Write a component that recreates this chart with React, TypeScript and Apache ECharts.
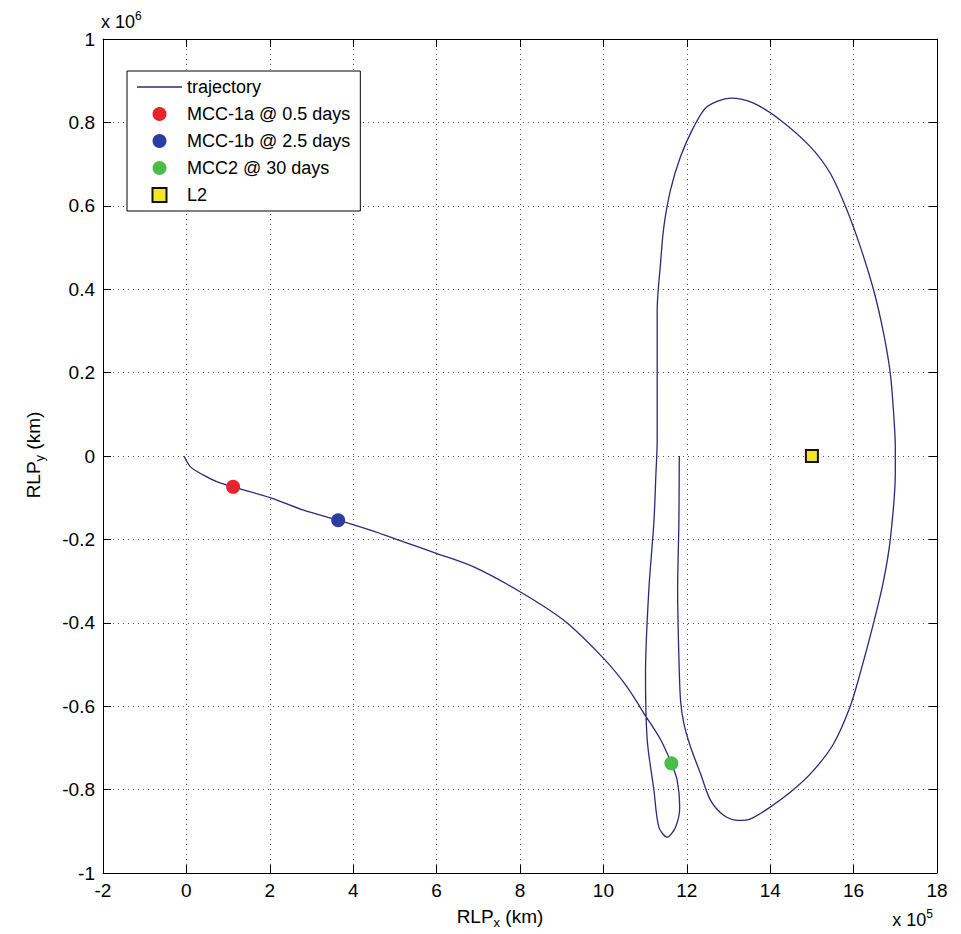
import React, { useEffect, useRef } from "react";
import * as echarts from "echarts";

const FONT = "'Liberation Sans', Arial, Helvetica, sans-serif";

// Trajectory in km (RLP frame)
const trajX = [
  -6000, 10000, 41000, 74000, 112000, 201000, 281000, 364000, 441000, 521000,
  601000, 689000, 801000, 905000, 1001000, 1057000, 1097000, 1137000, 1163000, 1177000,
  1183000, 1173000, 1153000, 1133000, 1121000, 1105000, 1101000, 1109000, 1121000, 1126000,
  1129000, 1129000, 1137000, 1145000, 1161000, 1185000, 1217000, 1249000, 1305000, 1360000,
  1424000, 1496000, 1544000, 1584000, 1616000, 1648000, 1672000, 1688000, 1696000, 1700000,
  1700000, 1688000, 1672000, 1648000, 1616000, 1592000, 1552000, 1504000, 1456000, 1400000,
  1353000, 1325000, 1289000, 1257000, 1233000, 1209000, 1193000, 1185000, 1181000, 1178000,
  1181000, 1182000,
];
const trajY = [
  0, -26000, -46000, -62000, -74000, -100000, -130000, -154000, -178000, -206000,
  -234000, -266000, -326000, -394000, -486000, -554000, -617000, -680000, -737000, -778000,
  -842000, -890000, -914000, -890000, -800000, -680000, -520000, -320000, -160000, -42000,
  38000, 350000, 462000, 550000, 638000, 718000, 790000, 838000, 858000, 846000,
  806000, 742000, 678000, 590000, 502000, 398000, 294000, 198000, 102000, 22000,
  -42000, -200000, -298000, -400000, -520000, -600000, -690000, -754000, -800000, -842000,
  -870000, -874000, -862000, -826000, -762000, -698000, -642000, -586000, -482000, -320000,
  -160000, 0,
];

const markerNames = ["MCC-1a @ 0.5 days", "MCC-1b @ 2.5 days", "MCC2 @ 30 days"];
const markerX = [112000, 364000, 1163000];
const markerY = [-74000, -154000, -737000];
const markerColors = ["#e8232b", "#2b3da0", "#4dbb48"];

const l2X = [1500000];
const l2Y = [0];

const xTicks = { min: -200000, max: 1800000, interval: 200000, scale: 1e5 };
const yTicks = { min: -1000000, max: 1000000, interval: 200000, scale: 1e6 };

export default function App() {
  const ref = useRef<HTMLDivElement>(null);
  useEffect(() => {
    const chart = echarts.init(ref.current!, null, { renderer: "svg" });
    const fmt = (v: number, s: number) => String(parseFloat((v / s).toFixed(2)));
    const axisCommon = {
      type: "value" as const,
      axisLine: { show: true, onZero: false, lineStyle: { color: "#000", width: 1 } },
      axisTick: { show: true, inside: true, length: 8, lineStyle: { color: "#000", width: 1 } },
    };
    const gridLine = { show: true, lineStyle: { color: "#555", width: 1, type: [1, 4] as any } };
    const option: any = {
      animation: false,
      backgroundColor: "#fff",
      textStyle: { fontFamily: FONT },
      grid: { left: 103, right: 24, top: 39, bottom: 61, containLabel: false },
      xAxis: [
        {
          ...axisCommon,
          position: "bottom",
          min: xTicks.min, max: xTicks.max, interval: xTicks.interval,
          axisLabel: { color: "#000", fontSize: 19, fontFamily: FONT, margin: 8, formatter: (v: number) => fmt(v, xTicks.scale) },
          splitLine: gridLine,
        },
        {
          ...axisCommon,
          position: "top",
          min: xTicks.min, max: xTicks.max, interval: xTicks.interval,
          axisLabel: { show: false },
          splitLine: { show: false },
        },
      ],
      yAxis: [
        {
          ...axisCommon,
          position: "left",
          min: yTicks.min, max: yTicks.max, interval: yTicks.interval,
          axisLabel: { color: "#000", fontSize: 19, fontFamily: FONT, margin: 8, formatter: (v: number) => fmt(v, yTicks.scale) },
          splitLine: gridLine,
        },
        {
          ...axisCommon,
          position: "right",
          min: yTicks.min, max: yTicks.max, interval: yTicks.interval,
          axisLabel: { show: false },
          splitLine: { show: false },
        },
      ],
      legend: {
        orient: "vertical",
        left: 127,
        top: 71,
        backgroundColor: "#fff",
        borderColor: "#000",
        borderWidth: 1,
        padding: [6, 10, 6, 10],
        itemWidth: 45,
        itemHeight: 14,
        itemGap: 7,
        textStyle: { color: "#000", fontSize: 18, fontFamily: FONT, lineHeight: 20 },
        data: [
          { name: "trajectory", icon: "path://M0,0L45,0L45,1.3L0,1.3Z" },
          ...markerNames.map((n) => ({ name: n })),
          { name: "L2", icon: "path://M0,0L10,0L10,10L0,10Z" },
        ],
      },
      series: [
        {
          name: "trajectory",
          type: "line",
          symbol: "none",
          smooth: 0.3,
          lineStyle: { color: "#2a2a7a", width: 1.3 },
          itemStyle: { color: "#2a2a7a" },
          data: trajX.map((x, i) => [x, trajY[i]]),
          z: 2,
        },
        ...markerNames.map((n, i) => ({
          name: n,
          type: "scatter",
          symbol: "circle",
          symbolSize: 14,
          itemStyle: { color: markerColors[i], opacity: 1 },
          data: [[markerX[i], markerY[i]]],
          z: 3,
        })),
        {
          name: "L2",
          type: "scatter",
          symbol: "rect",
          symbolSize: 12,
          itemStyle: { color: "#f4e526", borderColor: "#111", borderWidth: 2, opacity: 1 },
          data: l2X.map((x, i) => [x, l2Y[i]]),
          z: 3,
        },
      ],
      graphic: [
        {
          type: "text",
          x: 500,
          y: 916,
          style: {
            text: "{n|RLP}{s|x}{n| (km)}",
            align: "center",
            verticalAlign: "middle",
            rich: {
              n: { fontSize: 19, fontFamily: FONT, fill: "#000", lineHeight: 26 },
              s: { fontSize: 13, fontFamily: FONT, fill: "#000", lineHeight: 13, verticalAlign: "bottom" },
            },
          },
        },
        {
          type: "text",
          x: 33,
          y: 455,
          rotation: Math.PI / 2,
          style: {
            text: "{n|RLP}{s|y}{n| (km)}",
            align: "center",
            verticalAlign: "middle",
            rich: {
              n: { fontSize: 19, fontFamily: FONT, fill: "#000", lineHeight: 26 },
              s: { fontSize: 13, fontFamily: FONT, fill: "#000", lineHeight: 13, verticalAlign: "bottom" },
            },
          },
        },
        {
          type: "text",
          x: 101,
          y: 22,
          style: {
            text: "{n|x 10}{p|6}",
            align: "left",
            verticalAlign: "middle",
            rich: {
              n: { fontSize: 18, fontFamily: FONT, fill: "#000", lineHeight: 24 },
              p: { fontSize: 12, fontFamily: FONT, fill: "#000", lineHeight: 12, verticalAlign: "top" },
            },
          },
        },
        {
          type: "text",
          x: 933,
          y: 920,
          style: {
            text: "{n|x 10}{p|5}",
            align: "right",
            verticalAlign: "middle",
            rich: {
              n: { fontSize: 18, fontFamily: FONT, fill: "#000", lineHeight: 24 },
              p: { fontSize: 12, fontFamily: FONT, fill: "#000", lineHeight: 12, verticalAlign: "top" },
            },
          },
        },
      ],
    };
    chart.setOption(option);
    return () => chart.dispose();
  }, []);
  return (
    <div
      ref={ref}
      style={{ position: "absolute", left: 0, top: 0, width: 961, height: 934, background: "#fff" }}
    />
  );
}
